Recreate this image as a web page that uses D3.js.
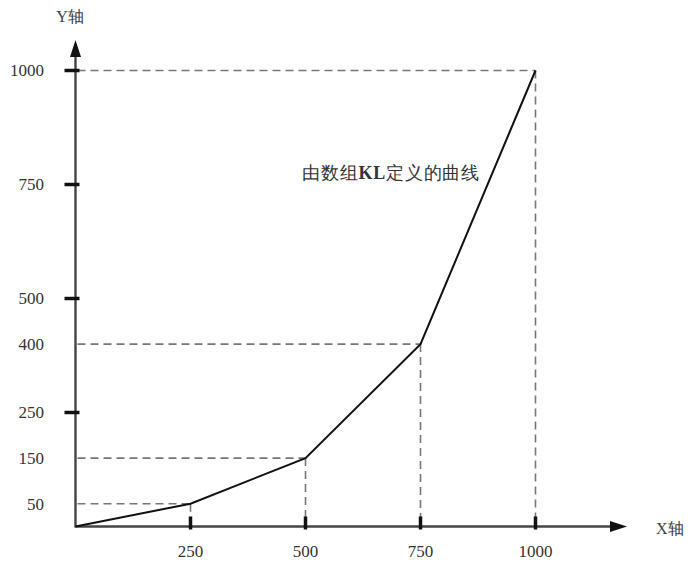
<!DOCTYPE html>
<html>
<head>
<meta charset="utf-8">
<script src="https://cdn.jsdelivr.net/npm/d3@7"></script>
<style>
  html, body { margin: 0; padding: 0; background: #fff; }
  svg { display: block; }
</style>
</head>
<body>
<svg id="chart" width="690" height="562"></svg>
<script>
// Curve points defined by array KL
const kx = [0, 250, 500, 750, 1000];
const ky = [0, 50, 150, 400, 1000];
const xTicks = [250, 500, 750, 1000];
const yTicks = [50, 150, 250, 400, 500, 750, 1000];
const yMajor = [250, 500, 750, 1000];
const curveLabel = ["由数组", "KL", "定义的曲线"];

const svg = d3.select("#chart");
const serif = "'Liberation Serif', 'Times New Roman', serif";

const x = d3.scaleLinear().domain([0, 1000]).range([75.5, 535.5]);
const y = d3.scaleLinear().domain([0, 1000]).range([526.5, 70.5]);

const axisColor = "#444";
const dashColor = "#777";

// Guide lines from each point to both axes
const pts = kx.map((v, i) => ({ x: v, y: ky[i] })).filter(d => d.x > 0);
const guides = svg.append("g")
  .attr("stroke", dashColor)
  .attr("stroke-width", 1.6)
  .attr("stroke-dasharray", "8,5")
  .attr("fill", "none");
guides.selectAll("line.h").data(pts).join("line")
  .attr("x1", x(0) + 2).attr("x2", d => x(d.x))
  .attr("y1", d => y(d.y)).attr("y2", d => y(d.y));
guides.selectAll("line.v").data(pts).join("line")
  .attr("x1", d => x(d.x)).attr("x2", d => x(d.x))
  .attr("y1", d => y(d.y)).attr("y2", y(0));

// Axes with arrowheads
svg.append("line")
  .attr("x1", x(0)).attr("x2", 612)
  .attr("y1", y(0)).attr("y2", y(0))
  .attr("stroke", axisColor).attr("stroke-width", 2.4);
svg.append("path")
  .attr("d", `M627,${y(0)} L610,${y(0) - 5.5} L610,${y(0) + 5.5} Z`)
  .attr("fill", "#111");
svg.append("line")
  .attr("x1", x(0)).attr("x2", x(0))
  .attr("y1", y(0) + 1).attr("y2", 56)
  .attr("stroke", axisColor).attr("stroke-width", 2.4);
svg.append("path")
  .attr("d", `M${x(0)},40 L${x(0) - 5.5},57 L${x(0) + 5.5},57 Z`)
  .attr("fill", "#111");

// Tick marks
svg.append("g").selectAll("line").data(yMajor).join("line")
  .attr("x1", x(0) - 11).attr("x2", x(0) + 4)
  .attr("y1", d => y(d)).attr("y2", d => y(d))
  .attr("stroke", "#111").attr("stroke-width", 3.5);
svg.append("g").selectAll("line").data(xTicks).join("line")
  .attr("x1", d => x(d)).attr("x2", d => x(d))
  .attr("y1", y(0) - 10).attr("y2", y(0) + 3)
  .attr("stroke", "#111").attr("stroke-width", 3.5);

// Tick labels
svg.append("g").selectAll("text").data(yTicks).join("text")
  .attr("x", 44).attr("y", d => y(d))
  .attr("dy", "0.35em")
  .attr("text-anchor", "end")
  .attr("font-family", serif).attr("font-size", 17)
  .attr("fill", "#333")
  .text(d => d);
svg.append("g").selectAll("text").data(xTicks).join("text")
  .attr("x", d => x(d)).attr("y", 551)
  .attr("dy", "0.35em")
  .attr("text-anchor", "middle")
  .attr("font-family", serif).attr("font-size", 17)
  .attr("fill", "#333")
  .text(d => d);

// Axis titles
svg.append("text").attr("x", 70).attr("y", 16).attr("dy", "0.35em")
  .attr("text-anchor", "middle")
  .attr("font-family", serif).attr("font-size", 16).attr("fill", "#444")
  .text("Y轴");
svg.append("text").attr("x", 656).attr("y", 528).attr("dy", "0.35em")
  .attr("font-family", serif).attr("font-size", 16).attr("fill", "#444")
  .text("X轴");

// The curve
const line = d3.line().x((d, i) => x(kx[i])).y(d => y(d));
svg.append("path")
  .datum(ky)
  .attr("d", line)
  .attr("fill", "none")
  .attr("stroke", "#111")
  .attr("stroke-width", 2);

// Curve label (KL in bold)
const lbl = svg.append("text").attr("x", 302).attr("y", 173).attr("dy", "0.35em")
  .attr("font-family", serif).attr("font-size", 18).attr("fill", "#333")
  .attr("letter-spacing", 0.8);
lbl.selectAll("tspan").data(curveLabel).join("tspan")
  .attr("font-weight", (d, i) => i === 1 ? "bold" : null)
  .text(d => d);
</script>
</body>
</html>
